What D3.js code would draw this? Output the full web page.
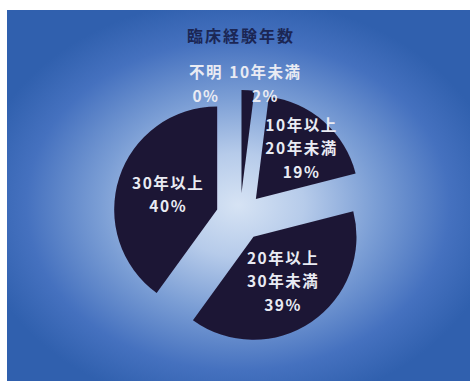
<!DOCTYPE html>
<html>
<head>
<meta charset="utf-8">
<script src="https://cdn.jsdelivr.net/npm/d3@7/dist/d3.min.js"></script>
<style>
  html, body { margin: 0; padding: 0; background: #ffffff; }
  svg { display: block; }
</style>
</head>
<body>
<svg id="chart" width="470" height="381"></svg>
<script>
// 臨床経験年数 — distribution of clinical experience (%)
const categories = ["不明", "10年未満", "10年以上20年未満", "20年以上30年未満", "30年以上"];
const categoryLines = [["不明"], ["10年未満"], ["10年以上", "20年未満"], ["20年以上", "30年未満"], ["30年以上"]];
const values = [0, 2, 19, 39, 40];
const title = "臨床経験年数";

// label placement: radius as a fraction of the pie radius, plus a sideways nudge
const labelRadius = [1.07, 1.07, 0.67, 0.51, 0.5];
const labelNudge = [-34, 17, 0, 0, 0];

const W = 470, H = 381;
const cx = 240, cy = 217, R = 103, explode = 24;

const svg = d3.select("#chart");
const defs = svg.append("defs");

// panel background: bright glow behind the pie fading to deep blue
const grad = defs.append("radialGradient")
  .attr("id", "bg").attr("gradientUnits", "userSpaceOnUse")
  .attr("cx", 238).attr("cy", 205).attr("r", 265)
  .attr("gradientTransform", "translate(238,205) scale(1,0.78) translate(-238,-205)");
[[0, "#d6e3f4"], [0.25, "#b6cbea"], [0.52, "#7b9ed5"], [0.8, "#4571bf"], [1, "#3060ae"]]
  .forEach(([o, c]) => grad.append("stop").attr("offset", o).attr("stop-color", c));

defs.append("filter").attr("id", "soft")
  .append("feGaussianBlur").attr("stdDeviation", 0.5);

svg.append("rect")
  .attr("x", 7).attr("y", 10).attr("width", W - 7).attr("height", H - 10)
  .attr("fill", "url(#bg)");

svg.append("text")
  .attr("x", 241).attr("y", 35)
  .attr("text-anchor", "middle").attr("dominant-baseline", "central")
  .attr("font-family", "'Noto Sans CJK JP', sans-serif")
  .attr("font-size", 16).attr("font-weight", 700)
  .attr("letter-spacing", 2)
  .attr("fill", "#1b2654")
  .text(title);

const pie = d3.pie().sort(null).value(d => d)(values);
const arc = d3.arc().innerRadius(0).outerRadius(R);

const g = svg.append("g").attr("transform", `translate(${cx},${cy})`);

const offset = d => {
  const a = (d.startAngle + d.endAngle) / 2;
  return [Math.sin(a) * explode, -Math.cos(a) * explode];
};

g.selectAll("path.slice")
  .data(pie.filter(d => d.value > 0))
  .join("path")
  .attr("class", "slice")
  .attr("transform", d => `translate(${offset(d)})`)
  .attr("d", arc)
  .attr("fill", "#1d1634")
  .attr("filter", "url(#soft)");

const lineH = 23.5;
const labels = g.selectAll("text.lbl")
  .data(pie)
  .join("text")
  .attr("class", "lbl")
  .attr("text-anchor", "middle")
  .attr("font-family", "'Noto Sans CJK JP', sans-serif")
  .attr("font-size", 15.5).attr("font-weight", 700)
  .attr("letter-spacing", 1.5)
  .attr("fill", "#e9ebf3")
  .attr("transform", (d, i) => {
    const a = (d.startAngle + d.endAngle) / 2;
    const [ox, oy] = offset(d);
    const lr = labelRadius[i] * R;
    return `translate(${ox + Math.sin(a) * lr + labelNudge[i]},${oy - Math.cos(a) * lr})`;
  });

labels.each(function (d, i) {
  const lines = categoryLines[i].concat([d.value + "%"]);
  const t = d3.select(this);
  lines.forEach((s, k) => {
    t.append("tspan")
      .attr("x", 0)
      .attr("y", (k - (lines.length - 1) / 2) * lineH)
      .attr("dominant-baseline", "central")
      .text(s);
  });
});
</script>
</body>
</html>
